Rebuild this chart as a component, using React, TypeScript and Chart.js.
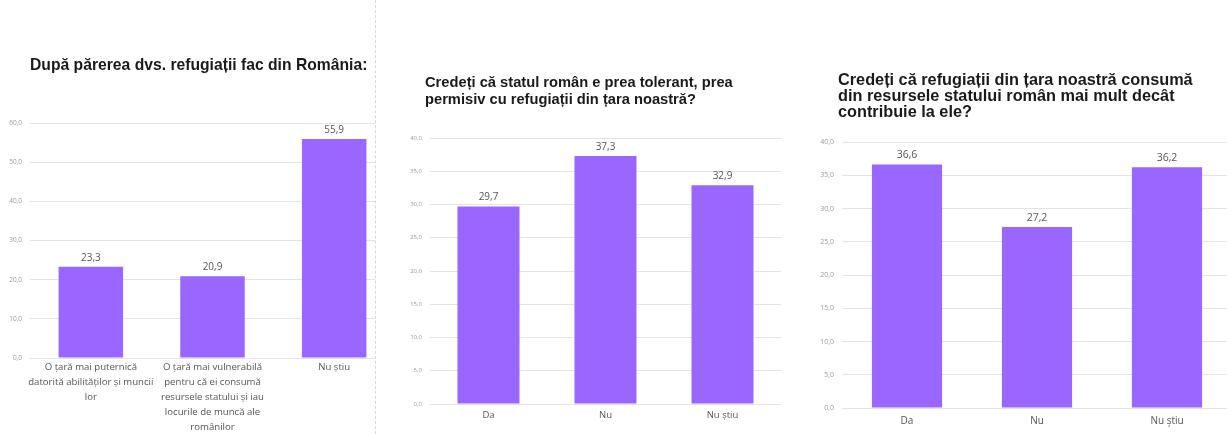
import React, { useEffect, useRef } from "react";
import { Chart, registerables } from "chart.js";

Chart.register(...registerables);

// ---- Data ----
const title1 = ["După părerea dvs. refugiații fac din România:"];
const categories1: (string | string[])[] = [
  ["O țară mai puternică", "datorită abilităților și muncii", "lor"],
  ["O țară mai vulnerabilă", "pentru că ei consumă", "resursele statului și iau", "locurile de muncă ale", "românilor"],
  "Nu știu",
];
const values1 = [23.3, 20.9, 55.9];
const yMax1 = 60;
const yStep1 = 10;

const title2 = ["Credeți că statul român e prea tolerant, prea", "permisiv cu refugiații din țara noastră?"];
const categories2 = ["Da", "Nu", "Nu știu"];
const values2 = [29.7, 37.3, 32.9];
const yMax2 = 40;
const yStep2 = 5;

const title3 = [
  "Credeți că refugiații din țara noastră consumă",
  "din resursele statului român mai mult decât",
  "contribuie la ele?",
];
const categories3 = ["Da", "Nu", "Nu știu"];
const values3 = [36.6, 27.2, 36.2];
const yMax3 = 40;
const yStep3 = 5;

const BAR_COLOR = "#9966ff";
const fmt = (v: number) => v.toFixed(1).replace(".", ",");

const valueLabels = {
  id: "valueLabels",
  afterDatasetsDraw(chart: any, _args: any, opts: any) {
    const ctx = chart.ctx;
    const meta = chart.getDatasetMeta(0);
    const data = chart.data.datasets[0].data as number[];
    ctx.save();
    ctx.font = `${opts.size || 10}px "Open Sans", sans-serif`;
    ctx.fillStyle = "#555";
    ctx.textAlign = "center";
    ctx.textBaseline = "bottom";
    meta.data.forEach((el: any, i: number) => {
      ctx.fillText(fmt(data[i]), el.x, el.y - 4);
    });
    ctx.restore();
  },
};

type PanelProps = {
  labels: (string | string[])[];
  values: number[];
  yMax: number;
  yStep: number;
  width: number;
  height: number;
  padTop: number;
  padRight: number;
  yAxisWidth: number;
  xAxisHeight: number;
  xPad: number;
  barPct: number;
  yTickSize: number;
  xTickSize: number;
  xLineHeight: number;
  valueSize: number;
};

function BarPanel(p: PanelProps) {
  const ref = useRef<HTMLCanvasElement>(null);
  useEffect(() => {
    if (!ref.current) return;
    const chart = new Chart(ref.current, {
      type: "bar",
      data: {
        labels: p.labels as any,
        datasets: [
          {
            data: p.values,
            backgroundColor: BAR_COLOR,
            categoryPercentage: 1,
            barPercentage: p.barPct,
          },
        ],
      },
      plugins: [valueLabels],
      options: {
        animation: false,
        responsive: false,
        devicePixelRatio: 1,
        layout: { padding: { top: p.padTop, right: p.padRight, bottom: 0, left: 0 } },
        plugins: {
          legend: { display: false },
          tooltip: { enabled: false },
          title: { display: false },
          valueLabels: { size: p.valueSize },
        } as any,
        scales: {
          x: {
            grid: { display: false, drawTicks: false },
            border: { display: false },
            ticks: {
              autoSkip: false,
              maxRotation: 0,
              minRotation: 0,
              padding: p.xPad,
              color: "#555",
              font: { family: "'Open Sans', sans-serif", size: p.xTickSize, lineHeight: p.xLineHeight },
            },
            afterFit: (s: any) => {
              s.height = p.xAxisHeight;
            },
          },
          y: {
            min: 0,
            max: p.yMax,
            grid: { color: "#e3e3e3", drawTicks: false, lineWidth: 1 },
            border: { display: false },
            ticks: {
              stepSize: p.yStep,
              padding: 8,
              color: "#999",
              font: { family: "'Open Sans', sans-serif", size: p.yTickSize },
              callback: (v: any) => fmt(Number(v)),
            },
            afterFit: (s: any) => {
              s.width = p.yAxisWidth;
            },
          },
        },
      },
    });
    return () => chart.destroy();
  }, []);
  return <canvas ref={ref} width={p.width} height={p.height} style={{ width: p.width, height: p.height, display: "block" }} />;
}

const titleStyle: React.CSSProperties = {
  position: "absolute",
  fontFamily: "'Liberation Sans', Arial, sans-serif",
  fontWeight: "bold",
  color: "#1a1a1a",
  whiteSpace: "nowrap",
};

export default function App() {
  return (
    <div
      style={{
        position: "fixed",
        left: 0,
        top: 0,
        width: 1227,
        height: 434,
        overflow: "hidden",
        background: "#fff",
      }}
    >
      {/* Panel 1 */}
      <div style={{ position: "absolute", left: 0, top: 0, width: 375, height: 434, overflow: "hidden", borderRight: "1px dashed #d8d8d8" }}>
        <div style={{ position: "absolute", left: 0, top: 0 }}>
          <BarPanel
            labels={categories1}
            values={values1}
            yMax={yMax1}
            yStep={yStep1}
            width={400}
            height={434}
            padTop={123}
            padRight={5}
            yAxisWidth={30}
            xAxisHeight={76}
            xPad={2}
            barPct={0.53}
            yTickSize={6.5}
            xTickSize={9.6}
            xLineHeight={1.56}
            valueSize={10}
          />
        </div>
        <div style={{ ...titleStyle, left: 30, top: 56, fontSize: 15.7, lineHeight: "17px" }}>
          {title1.map((t, i) => (
            <div key={i}>{t}</div>
          ))}
        </div>
      </div>

      {/* Panel 2 */}
      <div style={{ position: "absolute", left: 376, top: 0, width: 407, height: 434, overflow: "hidden" }}>
        <BarPanel
          labels={categories2}
          values={values2}
          yMax={yMax2}
          yStep={yStep2}
          width={407}
          height={434}
          padTop={138}
          padRight={2}
          yAxisWidth={54}
          xAxisHeight={30}
          xPad={6}
          barPct={0.53}
          yTickSize={6}
          xTickSize={9.5}
          xLineHeight={1.2}
          valueSize={10}
        />
        <div style={{ ...titleStyle, left: 49, top: 74, fontSize: 14.7, lineHeight: "17px" }}>
          {title2.map((t, i) => (
            <div key={i}>{t}</div>
          ))}
        </div>
      </div>

      {/* Panel 3 */}
      <div style={{ position: "absolute", left: 783, top: 0, width: 449, height: 434 }}>
        <BarPanel
          labels={categories3}
          values={values3}
          yMax={yMax3}
          yStep={yStep3}
          width={449}
          height={434}
          padTop={142}
          padRight={0}
          yAxisWidth={59}
          xAxisHeight={26}
          xPad={7}
          barPct={0.54}
          yTickSize={7}
          xTickSize={10}
          xLineHeight={1.2}
          valueSize={10.5}
        />
        <div style={{ ...titleStyle, left: 55, top: 71, fontSize: 16.3, lineHeight: "16px" }}>
          {title3.map((t, i) => (
            <div key={i}>{t}</div>
          ))}
        </div>
      </div>
    </div>
  );
}
